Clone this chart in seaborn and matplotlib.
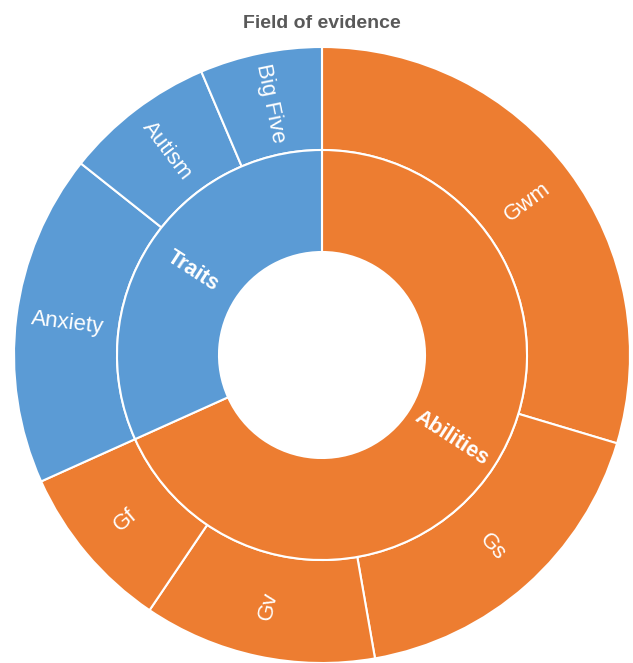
import numpy as np
import matplotlib
matplotlib.use("Agg")
import matplotlib.pyplot as plt
import seaborn as sns

# Data
inner_labels = ["Abilities", "Traits"]
outer_labels = ["Gwm", "Gs", "Gv", "Gf", "Anxiety", "Autism", "Big Five"]
outer_values = [29.6, 17.6, 12.2, 8.8, 17.4, 7.9, 6.4]
outer_parent = ["Abilities", "Abilities", "Abilities", "Abilities", "Traits", "Traits", "Traits"]
title = "Field of evidence"

sns.set_theme(style="white")
plt.rcParams['font.family'] = ['Liberation Sans', 'DejaVu Sans']

inner_values = [sum(v for v, p in zip(outer_values, outer_parent) if p == g) for g in inner_labels]
group_colors = {"Abilities": "#ED7D31", "Traits": "#5B9BD5"}
inner_colors = [group_colors[g] for g in inner_labels]
outer_colors = [group_colors[p] for p in outer_parent]

W, H = 633, 663
fig = plt.figure(figsize=(W / 100, H / 100), dpi=100)
cx, cy, R = 322, 355, 308
ax = fig.add_axes([(cx - R) / W, (H - cy - R) / H, 2 * R / W, 2 * R / H])

r_out, r_mid, r_in = 1.0, 205 / 308, 103 / 308
wp = dict(edgecolor="white", linewidth=1.5)
ax.pie(outer_values, radius=r_out, colors=outer_colors, startangle=90, counterclock=False,
       wedgeprops=dict(width=r_out - r_mid, **wp))
ax.pie(inner_values, radius=r_mid, colors=inner_colors, startangle=90, counterclock=False,
       wedgeprops=dict(width=r_mid - r_in, **wp))
ax.set_xlim(-1, 1)
ax.set_ylim(-1, 1)
ax.set_aspect("equal")
ax.axis("off")


def place(labels, values, r, **kw):
    total = sum(outer_values)
    cum = 0
    for lab, v in zip(labels, values):
        mid = cum + v / 2
        cum += v
        compass = mid / total * 360
        math_ang = 90 - compass
        rad = np.deg2rad(math_ang)
        rot = (math_ang + 180) % 360 - 180
        if rot > 90:
            rot -= 180
        elif rot < -90:
            rot += 180
        ax.text(r * np.cos(rad), r * np.sin(rad), lab, rotation=rot, rotation_mode="anchor",
                ha="center", va="center", color="white", **kw)


place(outer_labels, outer_values, (r_out + r_mid) / 2, fontsize=16)
place(inner_labels, inner_values, (r_mid + r_in) / 2, fontsize=15.5, fontweight="bold")

fig.text(cx / W, 1 - 23 / H, title, ha="center", va="center", fontsize=14,
         fontweight="bold", color="#595959")

fig.savefig("out.png", dpi=100)
